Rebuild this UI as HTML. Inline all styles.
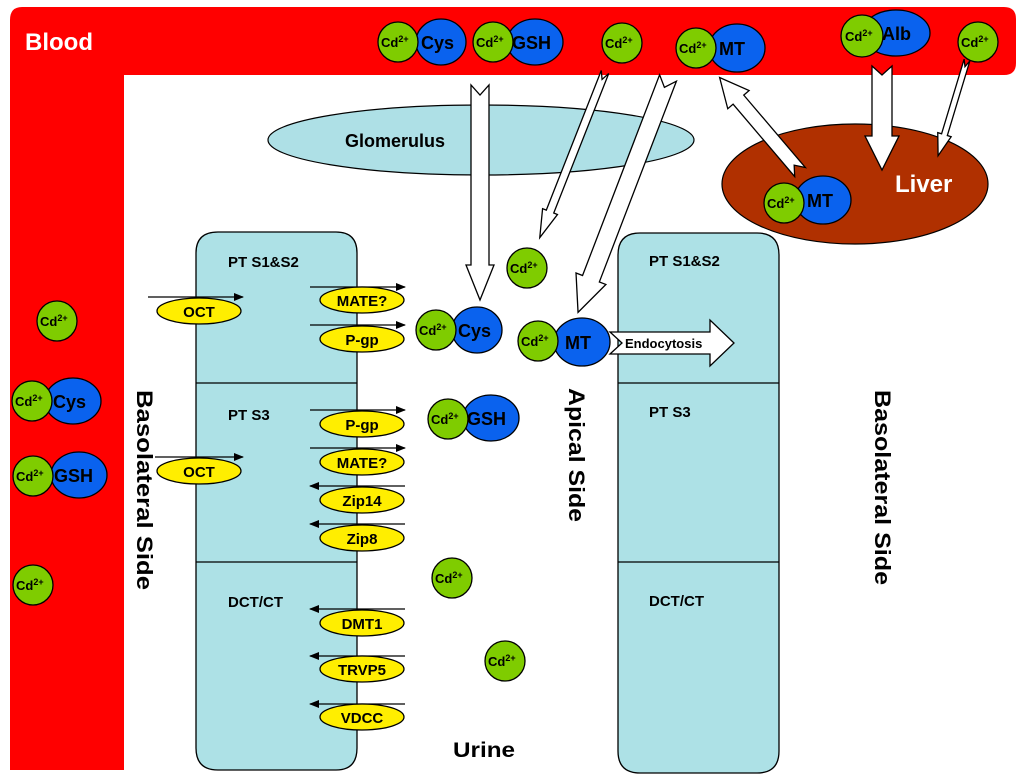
<!DOCTYPE html>
<html><head><meta charset="utf-8"><style>
html,body{margin:0;padding:0;background:#fff;}
svg{display:block;font-family:"Liberation Sans",Arial,sans-serif;font-weight:bold;}
.g{fill:#7fcc00;stroke:#000;stroke-width:1.3}
.b{fill:#0a62ee;stroke:#000;stroke-width:1.3}
.y{fill:#ffee00;stroke:#000;stroke-width:1.3}
.w{fill:#fff;stroke:#000;stroke-width:1.3;stroke-linejoin:miter}
.cd{font-size:13px}
.bt{font-size:18px}
.tl{font-size:15px;text-anchor:middle}
.cl{font-size:15px}
</style></head><body>
<svg width="1024" height="784" viewBox="0 0 1024 784" xmlns="http://www.w3.org/2000/svg">
<defs>
<marker id="ah" markerWidth="10" markerHeight="8" refX="9" refY="4" orient="auto" markerUnits="userSpaceOnUse">
<path d="M0,0 L10,4 L0,8 z" fill="#000"/></marker>
</defs>
<path d="M22,7 H1004 Q1016,7 1016,19 V63 Q1016,75 1004,75 H124 V770 H10 V20 Q10,7 22,7 Z" fill="#ff0000"/>
<text x="25" y="50" font-size="24" fill="#fff">Blood</text>

<ellipse cx="481" cy="140" rx="213" ry="35" fill="#aee0e6" stroke="#000" stroke-width="1.2"/>
<text x="345" y="147" font-size="18">Glomerulus</text>
<ellipse cx="855" cy="184" rx="133" ry="60" fill="#b03000" stroke="#000" stroke-width="1.2"/>
<text x="895" y="192" font-size="24" fill="#fff">Liver</text>

<g fill="#ade1e6" stroke="#000" stroke-width="1.3">
<path d="M218,232 H336 Q357,232 357,253 V748 Q357,770 336,770 H218 Q196,770 196,748 V253 Q196,232 218,232 Z"/>
<path d="M640,233 H757 Q779,233 779,255 V751 Q779,773 757,773 H640 Q618,773 618,751 V255 Q618,233 640,233 Z"/>
</g>
<g stroke="#000" stroke-width="1.3">
<line x1="196" y1="383" x2="357" y2="383"/><line x1="196" y1="562" x2="357" y2="562"/>
<line x1="618" y1="383" x2="779" y2="383"/><line x1="618" y1="562" x2="779" y2="562"/>
</g>
<g class="cl">
<text x="228" y="267">PT S1&amp;S2</text><text x="228" y="420">PT S3</text><text x="228" y="607">DCT/CT</text>
<text x="649" y="266">PT S1&amp;S2</text><text x="649" y="417">PT S3</text><text x="649" y="606">DCT/CT</text>
</g>

<g class="w">
<polygon transform="translate(480,85) rotate(90)" points="0,-9 180,-9 180,-14 215,0 180,14 180,9 0,9 10,0"/>
<polygon transform="translate(605,72) rotate(111.5)" points="0,-4 150,-4 150,-8 178,0 150,8 150,4 0,4 8,0"/>
<polygon transform="translate(668,78) rotate(111)" points="0,-9 215,-9 215,-16 251,0 215,16 215,9 0,9 10,0"/>
<polygon transform="translate(800,172) rotate(-130.4)" points="0,-7 95,-7 95,-14 124,0 95,14 95,7 0,7 9,0"/>
<polygon transform="translate(882,66) rotate(90)" points="0,-10 70,-10 70,-17 104,0 70,17 70,10 0,10 9,0"/>
<polygon transform="translate(967,60) rotate(106.8)" points="0,-3 78,-3 78,-7 100,0 78,7 78,3 0,3 7,0"/>
<polygon points="610,332 710,332 710,320 734,343 710,366 710,354 610,354 622,343"/>
</g>
<text x="625" y="348" font-size="13">Endocytosis</text>

<g stroke="#000" stroke-width="1.3" marker-end="url(#ah)">
<line x1="148" y1="297" x2="243" y2="297"/>
<line x1="155" y1="457" x2="243" y2="457"/>
<line x1="310" y1="287" x2="405" y2="287"/>
<line x1="310" y1="325" x2="405" y2="325"/>
<line x1="310" y1="410" x2="405" y2="410"/>
<line x1="310" y1="448" x2="405" y2="448"/>
<line x1="405" y1="486" x2="310" y2="486"/>
<line x1="405" y1="524" x2="310" y2="524"/>
<line x1="405" y1="609" x2="310" y2="609"/>
<line x1="405" y1="656" x2="310" y2="656"/>
<line x1="405" y1="704" x2="310" y2="704"/>
</g>
<g>
<ellipse class="y" cx="199" cy="311" rx="42" ry="13"/><text class="tl" x="199" y="317">OCT</text>
<ellipse class="y" cx="199" cy="471" rx="42" ry="13"/><text class="tl" x="199" y="477">OCT</text>
<ellipse class="y" cx="362" cy="300" rx="42" ry="13"/><text class="tl" x="362" y="306">MATE?</text>
<ellipse class="y" cx="362" cy="339" rx="42" ry="13"/><text class="tl" x="362" y="345">P-gp</text>
<ellipse class="y" cx="362" cy="424" rx="42" ry="13"/><text class="tl" x="362" y="430">P-gp</text>
<ellipse class="y" cx="362" cy="462" rx="42" ry="13"/><text class="tl" x="362" y="468">MATE?</text>
<ellipse class="y" cx="362" cy="500" rx="42" ry="13"/><text class="tl" x="362" y="506">Zip14</text>
<ellipse class="y" cx="362" cy="538" rx="42" ry="13"/><text class="tl" x="362" y="544">Zip8</text>
<ellipse class="y" cx="362" cy="623" rx="42" ry="13"/><text class="tl" x="362" y="629">DMT1</text>
<ellipse class="y" cx="362" cy="669" rx="42" ry="13"/><text class="tl" x="362" y="675">TRVP5</text>
<ellipse class="y" cx="362" cy="717" rx="42" ry="13"/><text class="tl" x="362" y="723">VDCC</text>
</g>

<g>
<ellipse class="b" cx="441" cy="42" rx="25" ry="23"/><circle class="g" cx="398" cy="42" r="20"/><text class="bt" x="421" y="49">Cys</text>
<ellipse class="b" cx="535" cy="42" rx="28" ry="23"/><circle class="g" cx="493" cy="42" r="20"/><text class="bt" x="512" y="49">GSH</text>
<circle class="g" cx="622" cy="43" r="20"/>
<ellipse class="b" cx="737" cy="48" rx="28" ry="24"/><circle class="g" cx="696" cy="48" r="20"/><text class="bt" x="719" y="55">MT</text>
<ellipse class="b" cx="896" cy="33" rx="34" ry="23"/><circle class="g" cx="862" cy="36" r="21"/><text class="bt" x="882" y="40">Alb</text>
<circle class="g" cx="978" cy="42" r="20"/>
<ellipse class="b" cx="823" cy="200" rx="28" ry="24"/><circle class="g" cx="784" cy="203" r="20"/><text class="bt" x="807" y="207">MT</text>
<circle class="g" cx="527" cy="268" r="20"/>
<ellipse class="b" cx="477" cy="330" rx="25" ry="23"/><circle class="g" cx="436" cy="330" r="20"/><text class="bt" x="458" y="337">Cys</text>
<ellipse class="b" cx="582" cy="342" rx="28" ry="24"/><circle class="g" cx="538" cy="341" r="20"/><text class="bt" x="565" y="349">MT</text>
<ellipse class="b" cx="491" cy="418" rx="28" ry="23"/><circle class="g" cx="448" cy="419" r="20"/><text class="bt" x="467" y="425">GSH</text>
<circle class="g" cx="452" cy="578" r="20"/>
<circle class="g" cx="505" cy="661" r="20"/>
<circle class="g" cx="57" cy="321" r="20"/>
<ellipse class="b" cx="73" cy="401" rx="28" ry="23"/><circle class="g" cx="32" cy="401" r="20"/><text class="bt" x="53" y="408">Cys</text>
<ellipse class="b" cx="79" cy="475" rx="28" ry="23"/><circle class="g" cx="33" cy="476" r="20"/><text class="bt" x="54" y="482">GSH</text>
<circle class="g" cx="33" cy="585" r="20"/>
</g>
<g class="cd">
<text x="381" y="47">Cd<tspan font-size="9" dy="-5">2+</tspan></text>
<text x="476" y="47">Cd<tspan font-size="9" dy="-5">2+</tspan></text>
<text x="605" y="48">Cd<tspan font-size="9" dy="-5">2+</tspan></text>
<text x="679" y="53">Cd<tspan font-size="9" dy="-5">2+</tspan></text>
<text x="845" y="41">Cd<tspan font-size="9" dy="-5">2+</tspan></text>
<text x="961" y="47">Cd<tspan font-size="9" dy="-5">2+</tspan></text>
<text x="767" y="208">Cd<tspan font-size="9" dy="-5">2+</tspan></text>
<text x="510" y="273">Cd<tspan font-size="9" dy="-5">2+</tspan></text>
<text x="419" y="335">Cd<tspan font-size="9" dy="-5">2+</tspan></text>
<text x="521" y="346">Cd<tspan font-size="9" dy="-5">2+</tspan></text>
<text x="431" y="424">Cd<tspan font-size="9" dy="-5">2+</tspan></text>
<text x="435" y="583">Cd<tspan font-size="9" dy="-5">2+</tspan></text>
<text x="488" y="666">Cd<tspan font-size="9" dy="-5">2+</tspan></text>
<text x="40" y="326">Cd<tspan font-size="9" dy="-5">2+</tspan></text>
<text x="15" y="406">Cd<tspan font-size="9" dy="-5">2+</tspan></text>
<text x="16" y="481">Cd<tspan font-size="9" dy="-5">2+</tspan></text>
<text x="16" y="590">Cd<tspan font-size="9" dy="-5">2+</tspan></text>
</g>

<text transform="translate(137,390) rotate(90)" font-size="22" textLength="200" lengthAdjust="spacingAndGlyphs">Basolateral  Side</text>
<text transform="translate(569,388) rotate(90)" font-size="22" textLength="134" lengthAdjust="spacingAndGlyphs">Apical Side</text>
<text transform="translate(875,390) rotate(90)" font-size="22" textLength="195" lengthAdjust="spacingAndGlyphs">Basolateral  Side</text>
<text x="453" y="757" font-size="21" textLength="62" lengthAdjust="spacingAndGlyphs">Urine</text>
</svg>
</body></html>
